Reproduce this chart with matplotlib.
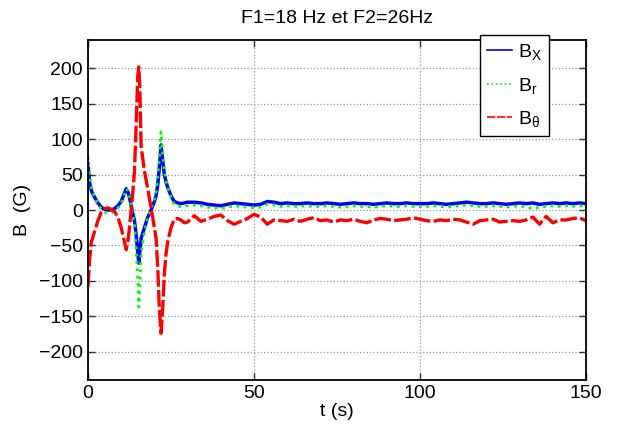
import matplotlib
matplotlib.use("Agg")
import matplotlib.pyplot as plt
import numpy as np

plt.rcParams['font.family'] = ['Liberation Sans', 'DejaVu Sans']
plt.rcParams['mathtext.fontset'] = 'custom'
plt.rcParams['mathtext.rm'] = 'Liberation Sans'

# time (s): dense sampling over the transient, then every 2 s
t_early = [0, 0.5, 1, 1.5, 2, 3, 4, 5, 6, 7, 8, 9, 10, 11, 11.5, 12, 12.5, 13, 13.5,
           14, 14.5, 15, 15.3, 15.6, 16, 17, 18, 19, 20, 20.5, 21, 21.5, 22, 22.5,
           23, 23.5, 24, 25, 26, 27, 28, 29, 30]
t_late = list(range(32, 151, 2))

bx_early = [65, 38, 28, 22, 18, 10, 4, 1, 0, 0, 2, 6, 12, 24, 30, 26, 18, 6, -5,
            -15, -35, -60, -75, -60, -40, -25, -10, 0, 12, 20, 35, 60, 92, 70,
            50, 40, 32, 20, 12, 10, 9, 10, 11]
bx_late = [11, 10, 8, 7, 6, 8, 10, 9, 8, 7,
           8, 12, 11, 9, 10, 9, 9, 10, 9, 9,
           10, 9, 8, 9, 10, 9, 9, 8, 9, 10,
           9, 9, 10, 9, 9, 9, 10, 9, 8, 9,
           10, 11, 10, 9, 9, 10, 9, 8, 9, 10,
           9, 10, 8, 9, 10, 9, 10, 9, 10, 9]

br_early = [75, 45, 32, 24, 19, 9, 1, -3, -4, -4, -2, 3, 9, 22, 30, 28, 20, 4, -8,
            -20, -55, -100, -137, -110, -60, -30, -12, 2, 15, 25, 45, 75, 110, 80,
            55, 42, 33, 18, 8, 5, 5, 6, 6]
br_late = [7, 6, 4, 3, 2, 4, 6, 5, 4, 3,
           4, 8, 7, 5, 6, 5, 5, 6, 5, 5,
           6, 5, 4, 5, 6, 5, 5, 4, 5, 6,
           5, 5, 6, 5, 5, 5, 6, 5, 4, 5,
           6, 7, 6, 5, 5, 6, 5, 4, 5, 6,
           4, 2, 4, 5, 6, 5, 6, 5, 6, 5]

bt_early = [-108, -70, -45, -38, -30, -15, -3, 2, 3, 1, -2, -10, -25, -45, -56, -45,
            -25, 0, 25, 55, 120, 190, 202, 175, 90, 55, 30, 3, -25, -40, -80, -140,
            -174, -140, -90, -62, -45, -25, -13, -12, -14, -18, -17]
bt_late = [-8, -16, -13, -9, -7, -15, -20, -16, -12, -6,
           -10, -20, -14, -15, -16, -13, -16, -13, -11, -15,
           -14, -17, -14, -15, -13, -16, -18, -14, -12, -13,
           -15, -14, -13, -11, -13, -15, -16, -14, -15, -13,
           -14, -17, -20, -15, -14, -13, -17, -16, -15, -16,
           -14, -10, -20, -9, -18, -14, -14, -12, -11, -15]

t = t_early + t_late
bx = bx_early + bx_late
br = br_early + br_late
bt = bt_early + bt_late

labels = [r'$\mathregular{B_X}$', r'$\mathregular{B_r}$', r'$\mathregular{B_\theta}$']

fig = plt.figure(figsize=(6.17, 4.28), dpi=100)
ax = fig.add_axes([0.1426, 0.1121, 0.8072, 0.7944])

ax.plot(t, bx, color='#0000ff', lw=2.5, ls='-', label=labels[0])
ax.plot(t, br, color='#00ff00', lw=2.0, ls=':', label=labels[1])
ax.plot(t, bt, color='#ff0000', lw=2.4, ls=(0, (5, 1)), label=labels[2])

ax.set_xlim(0, 150)
ax.set_ylim(-240, 240)
ax.set_xticks([0, 50, 100, 150])
ax.set_yticks(np.arange(-200, 201, 50))
ax.grid(True, ls=':', color='#999999', lw=0.9)
ax.tick_params(direction='in', length=5, labelsize=14, top=True, right=True,
               width=1, color='#333333')
for s in ax.spines.values():
    s.set_linewidth(1.3)

ax.set_title('F1=18 Hz et F2=26Hz', fontsize=14, pad=12)
ax.set_xlabel('t (s)', fontsize=14, labelpad=1)
ax.set_ylabel('B  (G)', fontsize=14, labelpad=6)

leg = fig.legend(loc='upper left', bbox_to_anchor=(0.778, 0.918), fontsize=14,
                 frameon=True, fancybox=False, edgecolor='black',
                 handlelength=1.3, handletextpad=0.3, labelspacing=0.7,
                 borderpad=0.35, borderaxespad=0)
leg.get_frame().set_linewidth(1.0)
leg.get_frame().set_alpha(1)
for ln in leg.get_lines():
    ln.set_linewidth(1.2)

fig.savefig('out.png', dpi=100)
